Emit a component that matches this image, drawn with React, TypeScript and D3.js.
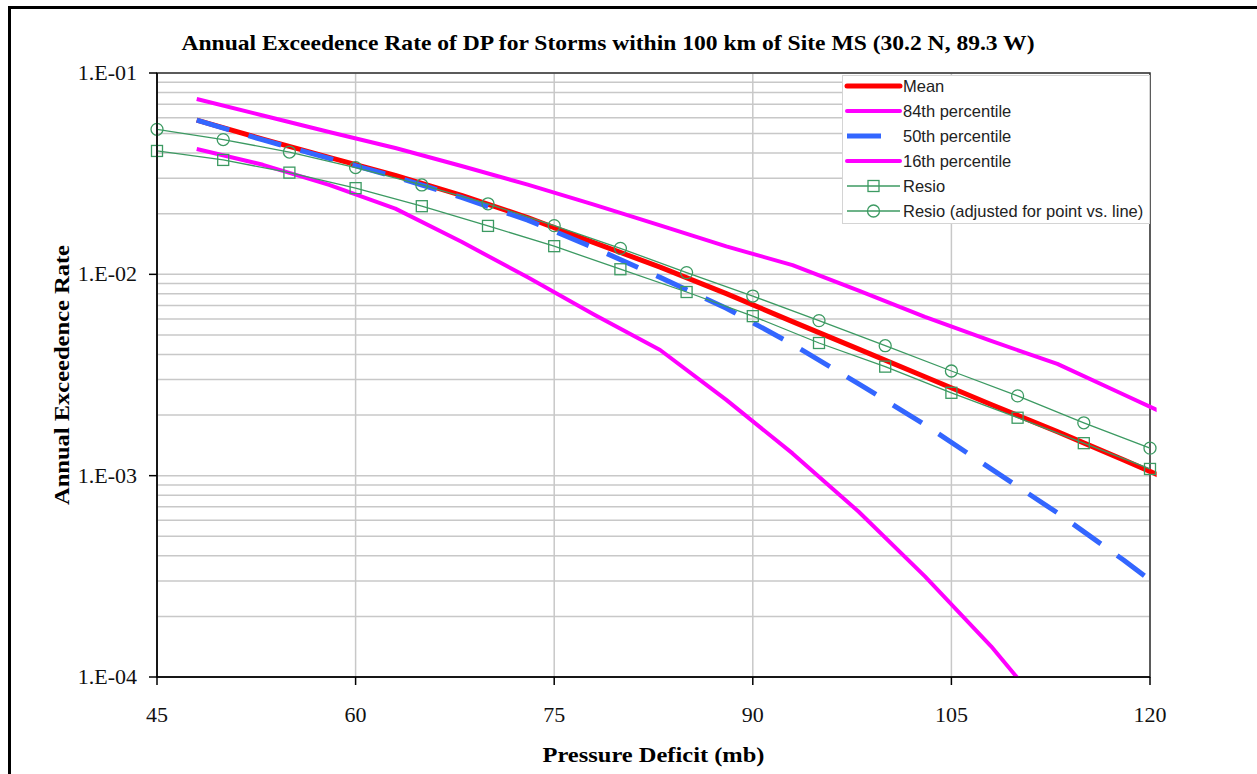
import * as d3 from 'd3'
import { useEffect, useRef } from 'react'

// pressure deficit (mb) for the percentile / mean curves
const pctX = [48, 53, 58, 63, 68, 73, 78, 83, 88, 93, 98, 103, 108, 113, 118, 123]
const meanRate = [0.0584, 0.0469, 0.0381, 0.031, 0.0247, 0.01913, 0.01437, 0.01086, 0.00802, 0.00582, 0.00425, 0.0031, 0.002257, 0.001654, 0.001198, 0.00086]
const p84Rate = [0.0743, 0.0615, 0.0509, 0.0424, 0.0345, 0.0279, 0.0222, 0.0175, 0.01376, 0.01112, 0.00829, 0.00615, 0.00467, 0.00359, 0.00253, 0.00178]
const p50Rate = [0.0584, 0.0465, 0.0377, 0.0305, 0.0241, 0.01859, 0.01355, 0.00966, 0.00679, 0.00449, 0.00286, 0.00179, 0.00108, 0.000654, 0.000381, 0.000215]
const p16Rate = [0.0419, 0.035, 0.0278, 0.0212, 0.01451, 0.00966, 0.00632, 0.00421, 0.00238, 0.00129, 0.000662, 0.000316, 0.000142, 0.0000573]

// Resio points
const resioX = [45, 50, 55, 60, 65, 70, 75, 80, 85, 90, 95, 100, 105, 110, 115, 120]
const resioRate = [0.041, 0.037, 0.032, 0.0268, 0.0218, 0.0174, 0.0138, 0.0106, 0.00817, 0.0062, 0.00456, 0.00348, 0.00258, 0.00194, 0.00145, 0.00108]
const resioAdjRate = [0.0525, 0.0467, 0.0405, 0.0339, 0.0278, 0.0224, 0.01745, 0.01346, 0.0102, 0.0078, 0.00589, 0.00442, 0.00331, 0.00249, 0.00183, 0.00137]

const xTicks = [45, 60, 75, 90, 105, 120]
const yTicks = [1e-1, 1e-2, 1e-3, 1e-4]
const yTickLabels = ['1.E-01', '1.E-02', '1.E-03', '1.E-04']

const legendItems = [
  { name: 'Mean', color: '#ff0000', width: 5, dash: null, marker: null },
  { name: '84th percentile', color: '#ff00ff', width: 4, dash: null, marker: null },
  { name: '50th percentile', color: '#3366ff', width: 5, dash: '34 20', marker: null },
  { name: '16th percentile', color: '#ff00ff', width: 4, dash: null, marker: null },
  { name: 'Resio', color: '#3c9a62', width: 1.3, dash: null, marker: 'square' },
  { name: 'Resio (adjusted for point vs. line)', color: '#3c9a62', width: 1.3, dash: null, marker: 'circle' },
]

const SERIF = '"Liberation Serif", "Times New Roman", serif'
const SANS = '"Liberation Sans", Arial, sans-serif'

const App = () => {
  const ref = useRef(null)

  useEffect(() => {
    const W = 1257
    const H = 774
    const left = 157
    const right = 1150
    const top = 73
    const bottom = 677

    const svg = d3.select(ref.current)
    svg.selectAll('*').remove()
    svg.attr('width', W).attr('height', H)

    const x = d3.scaleLinear().domain([45, 120]).range([left, right])
    const y = d3.scaleLog().domain([1e-4, 1e-1]).range([bottom, top])

    svg.append('rect').attr('width', W).attr('height', H).attr('fill', '#fff')
    // outer frame
    svg
      .append('rect')
      .attr('x', 9.5)
      .attr('y', 7.5)
      .attr('width', 1400)
      .attr('height', 900)
      .attr('fill', 'none')
      .attr('stroke', '#000')
      .attr('stroke-width', 3)

    // grid
    const grid = svg.append('g').attr('stroke', '#c8c8c8').attr('stroke-width', 1.5)
    y.ticks().forEach((t) => {
      grid.append('line').attr('x1', left).attr('x2', right).attr('y1', y(t)).attr('y2', y(t))
    })
    xTicks.forEach((t) => {
      grid.append('line').attr('x1', x(t)).attr('x2', x(t)).attr('y1', top).attr('y2', bottom)
    })

    // plot border
    svg
      .append('rect')
      .attr('x', left)
      .attr('y', top)
      .attr('width', right - left)
      .attr('height', bottom - top)
      .attr('fill', 'none')
      .attr('stroke', '#333')
      .attr('stroke-width', 1.5)

    svg
      .append('clipPath')
      .attr('id', 'plotclip')
      .append('rect')
      .attr('x', left)
      .attr('y', top - 5)
      .attr('width', x(120.5) - left)
      .attr('height', bottom - top + 5)

    const plot = svg.append('g').attr('clip-path', 'url(#plotclip)')
    const line = d3
      .line()
      .x((d) => x(d[0]))
      .y((d) => y(d[1]))

    const series = [
      { xs: pctX, ys: meanRate, item: legendItems[0] },
      { xs: pctX, ys: p84Rate, item: legendItems[1] },
      { xs: pctX, ys: p50Rate, item: legendItems[2] },
      { xs: pctX, ys: p16Rate, item: legendItems[3] },
      { xs: resioX, ys: resioRate, item: legendItems[4] },
      { xs: resioX, ys: resioAdjRate, item: legendItems[5] },
    ]

    const drawMarker = (g, kind, cx, cy, color) => {
      if (kind === 'square') {
        g.append('rect')
          .attr('x', cx - 5.5)
          .attr('y', cy - 5.5)
          .attr('width', 11)
          .attr('height', 11)
          .attr('fill', 'none')
          .attr('stroke', color)
          .attr('stroke-width', 1.3)
      } else if (kind === 'circle') {
        g.append('circle')
          .attr('cx', cx)
          .attr('cy', cy)
          .attr('r', 6)
          .attr('fill', 'none')
          .attr('stroke', color)
          .attr('stroke-width', 1.3)
      }
    }

    series.forEach((s) => {
      const pts = s.xs.slice(0, s.ys.length).map((v, i) => [v, s.ys[i]])
      plot
        .append('path')
        .attr('d', line(pts))
        .attr('fill', 'none')
        .attr('stroke', s.item.color)
        .attr('stroke-width', s.item.width)
        .attr('stroke-dasharray', s.item.dash)
        .attr('stroke-linejoin', 'round')
      if (s.item.marker) {
        pts.forEach((p) => drawMarker(svg, s.item.marker, x(p[0]), y(p[1]), s.item.color))
      }
    })

    // axes
    svg
      .append('line')
      .attr('x1', left)
      .attr('x2', left)
      .attr('y1', top)
      .attr('y2', bottom)
      .attr('stroke', '#000')
      .attr('stroke-width', 1.5)
    svg
      .append('line')
      .attr('x1', left)
      .attr('x2', right)
      .attr('y1', bottom)
      .attr('y2', bottom)
      .attr('stroke', '#000')
      .attr('stroke-width', 1.5)

    yTicks.forEach((t, i) => {
      svg
        .append('line')
        .attr('x1', left - 8)
        .attr('x2', left)
        .attr('y1', y(t))
        .attr('y2', y(t))
        .attr('stroke', '#000')
        .attr('stroke-width', 1.5)
      svg
        .append('text')
        .attr('x', 137)
        .attr('y', y(t) + 7)
        .attr('text-anchor', 'end')
        .attr('font-family', SERIF)
        .attr('font-size', 22)
        .attr('fill', '#111')
        .text(yTickLabels[i])
    })

    xTicks.forEach((t) => {
      svg
        .append('line')
        .attr('x1', x(t))
        .attr('x2', x(t))
        .attr('y1', bottom)
        .attr('y2', bottom + 8)
        .attr('stroke', '#000')
        .attr('stroke-width', 1.5)
      svg
        .append('text')
        .attr('x', x(t))
        .attr('y', 722)
        .attr('text-anchor', 'middle')
        .attr('font-family', SERIF)
        .attr('font-size', 22)
        .attr('fill', '#111')
        .text(t)
    })

    // titles
    svg
      .append('text')
      .attr('x', 608)
      .attr('y', 50)
      .attr('text-anchor', 'middle')
      .attr('font-family', SERIF)
      .attr('font-weight', 'bold')
      .attr('font-size', 21)
      .attr('textLength', 853)
      .attr('lengthAdjust', 'spacingAndGlyphs')
      .text('Annual Exceedence Rate of DP for Storms within 100 km of Site MS (30.2 N, 89.3 W)')
    svg
      .append('text')
      .attr('x', (left + right) / 2)
      .attr('y', 762)
      .attr('text-anchor', 'middle')
      .attr('font-family', SERIF)
      .attr('font-weight', 'bold')
      .attr('font-size', 21)
      .attr('textLength', 222)
      .attr('lengthAdjust', 'spacingAndGlyphs')
      .text('Pressure Deficit (mb)')
    svg
      .append('text')
      .attr('transform', `translate(69,${(top + bottom) / 2}) rotate(-90)`)
      .attr('text-anchor', 'middle')
      .attr('font-family', SERIF)
      .attr('font-weight', 'bold')
      .attr('font-size', 21)
      .attr('textLength', 260)
      .attr('lengthAdjust', 'spacingAndGlyphs')
      .text('Annual Exceedence Rate')

    // legend
    const lg = svg.append('g')
    lg.append('rect')
      .attr('x', 842.5)
      .attr('y', 75.5)
      .attr('width', 307)
      .attr('height', 148)
      .attr('fill', '#fff')
      .attr('stroke', '#d4d4d4')
      .attr('stroke-width', 1)
    legendItems.forEach((it, i) => {
      const ly = 86 + i * 25
      const x2 = it.dash ? 881 : 900
      lg.append('line')
        .attr('x1', 847)
        .attr('x2', x2)
        .attr('y1', ly)
        .attr('y2', ly)
        .attr('stroke', it.color)
        .attr('stroke-width', it.width)
        .attr('stroke-linecap', it.marker || it.dash ? 'butt' : 'round')
      if (it.marker) drawMarker(lg, it.marker, 873.5, ly, it.color)
      lg.append('text')
        .attr('x', 903)
        .attr('y', ly + 5.5)
        .attr('font-family', SANS)
        .attr('font-size', 16.5)
        .attr('fill', '#222')
        .text(it.name)
    })
  }, [])

  return (
    <div style={{ position: 'absolute', left: 0, top: 0 }}>
      <svg ref={ref}></svg>
    </div>
  )
}

export default App
